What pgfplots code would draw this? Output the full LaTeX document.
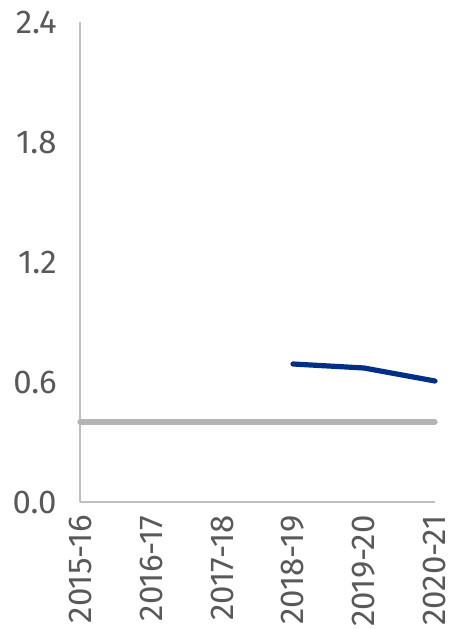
\documentclass[border=0pt]{standalone}
\usepackage{pgfplots}
\pgfplotsset{compat=1.18}
\usepackage{fontspec}
\setmainfont{Fira Sans}
\definecolor{labelgray}{HTML}{595959}
\definecolor{axisgray}{HTML}{BFBFBF}
\definecolor{refgray}{HTML}{B4B4B4}
\definecolor{navy}{HTML}{002F87}
\begin{document}
\begin{tikzpicture}
\path[use as bounding box] (-40pt,-63.5pt) rectangle (184.5pt,251pt);
\begin{axis}[
  at={(0,0)}, anchor=south west,
  scale only axis,
  width=177.5pt, height=240pt,
  xmin=0, xmax=5, ymin=0, ymax=2.4,
  axis x line*=bottom, axis y line*=left,
  axis line style={axisgray, line width=0.8pt, -},
  major tick length=0pt,
  xtick={0,1,2,3,4,5},
  xticklabels={2015-16,2016-17,2017-18,2018-19,2019-20,2020-21},
  ytick={0,0.6,1.2,1.8,2.4},
  yticklabel style={/pgf/number format/.cd, fixed, fixed zerofill, precision=1},
  /pgf/number format/assume math mode=true,
  ticklabel style={font=\fontsize{16.5}{19}\selectfont, text=labelgray, inner sep=0pt},
  x tick label style={rotate=90, anchor=east},
  xticklabel shift=6.5pt,
  yticklabel shift=11.5pt,
  clip=false,
]
\addplot[refgray, line width=2.6pt, line cap=round] coordinates {
  (0,0.40) (1,0.40) (2,0.40) (3,0.40) (4,0.40) (5,0.40)
};
\addplot[navy, line width=2.6pt, line cap=round, line join=round] coordinates {
  (3,0.69) (4,0.67) (5,0.605)
};
\end{axis}
\end{tikzpicture}
\end{document}
